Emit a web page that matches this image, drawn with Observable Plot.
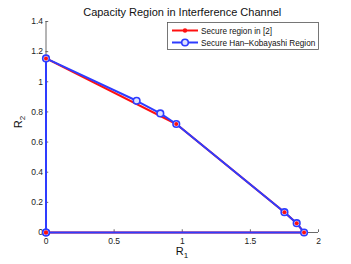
<!DOCTYPE html>
<html>
<head>
<meta charset="utf-8">
<script src="https://cdn.jsdelivr.net/npm/d3@7"></script>
<script src="https://cdn.jsdelivr.net/npm/@observablehq/plot@0.6"></script>
<style>
  html, body { margin: 0; padding: 0; background: #fff; }
  #wrap { position: relative; width: 351px; height: 264px; font-family: "Liberation Sans", Arial, sans-serif; }
  #legend { position: absolute; left: 167px; top: 22px; }
</style>
</head>
<body>
<div id="wrap"></div>
<script>
const titleText = "Capacity Region in Interference Channel";
const seriesNames = ["Secure region in [2]", "Secure Han\u2013Kobayashi Region"];
const seriesColors = ["#ff1010", "#2e3cff"];
const xTicks = [0, 0.5, 1, 1.5, 2];
const yTicks = [0, 0.2, 0.4, 0.6, 0.8, 1, 1.2, 1.4];

const redR1 = [0, 0, 0.956, 1.75, 1.84, 1.894, 0];
const redR2 = [0, 1.155, 0.72, 0.135, 0.062, 0, 0];
const blueR1 = [0, 0, 0.665, 0.839, 0.956, 1.75, 1.84, 1.894, 0];
const blueR2 = [0, 1.155, 0.874, 0.79, 0.72, 0.135, 0.062, 0, 0];

const red = redR1.map((x, i) => ({x, y: redR2[i]}));
const blue = blueR1.map((x, i) => ({x, y: blueR2[i]}));

const axisColor = "#444";
const chart = Plot.plot({
  width: 351,
  height: 264,
  marginLeft: 45.5,
  marginRight: 33,
  marginTop: 21,
  marginBottom: 32,
  style: {fontFamily: "Liberation Sans, Arial, sans-serif", fontSize: "8.5px", background: "#fff", color: "#222"},
  x: {domain: [0, 2], ticks: xTicks},
  y: {domain: [0, 1.4], ticks: yTicks},
  marks: [
    Plot.ruleX([0], {stroke: axisColor, strokeWidth: 0.8}),
    Plot.ruleY([0], {stroke: axisColor, strokeWidth: 0.8}),
    Plot.ruleX(xTicks, {x: d => d, y1: 0, y2: 0.018, stroke: axisColor, strokeWidth: 0.8}),
    Plot.ruleY(yTicks, {y: d => d, x1: 0, x2: 0.02, stroke: axisColor, strokeWidth: 0.8}),
    Plot.axisX({ticks: xTicks, tickSize: 0, tickPadding: 5, tickFormat: d => String(d), label: null, fill: "#222"}),
    Plot.axisY({ticks: yTicks, tickSize: 0, tickPadding: 3, tickFormat: d => String(d), label: null, fill: "#222"}),
    Plot.line(red, {x: "x", y: "y", stroke: seriesColors[0], strokeWidth: 2}),
    Plot.line(blue, {x: "x", y: "y", stroke: seriesColors[1], strokeWidth: 2}),
    Plot.dot(blue, {x: "x", y: "y", r: 3.3, stroke: seriesColors[1], strokeWidth: 1.6, fill: "#dfe2ff"}),
    Plot.dot(red, {x: "x", y: "y", r: 2, fill: seriesColors[0], stroke: "none"}),
    Plot.text([titleText], {frameAnchor: "top", dy: -13, fontSize: 11, fill: "#111"})
  ]
});

// axis labels with subscripts
const svg = d3.select(chart);
const xl = svg.append("text").attr("x", 182).attr("y", 255).attr("text-anchor", "middle")
  .attr("font-size", 11).attr("fill", "#111");
xl.append("tspan").text("R");
xl.append("tspan").attr("dy", 3).attr("font-size", 8).text("1");
const yl = svg.append("text").attr("transform", "translate(22,122) rotate(-90)").attr("text-anchor", "middle")
  .attr("font-size", 11).attr("fill", "#111");
yl.append("tspan").text("R");
yl.append("tspan").attr("dy", 3).attr("font-size", 8).text("2");

const wrap = document.getElementById("wrap");
wrap.appendChild(chart);

// legend
const leg = d3.select(wrap).append("div").attr("id", "legend")
  .append("svg").attr("width", 152).attr("height", 28);
leg.append("rect").attr("x", 0.5).attr("y", 0.5).attr("width", 151).attr("height", 27)
  .attr("fill", "#fff").attr("stroke", "#555").attr("stroke-width", 0.8);
seriesNames.forEach((name, i) => {
  const y = 8.5 + i * 12;
  const g = leg.append("g");
  g.append("line").attr("x1", 5).attr("x2", 31).attr("y1", y).attr("y2", y)
    .attr("stroke", seriesColors[i]).attr("stroke-width", 2);
  if (i === 0) {
    g.append("circle").attr("cx", 18).attr("cy", y).attr("r", 2.2).attr("fill", seriesColors[i]);
  } else {
    g.append("circle").attr("cx", 18).attr("cy", y).attr("r", 3.3).attr("fill", "#dfe2ff")
      .attr("stroke", seriesColors[i]).attr("stroke-width", 1.6);
  }
  g.append("text").attr("x", 34).attr("y", y + 3).attr("font-size", 8.2).attr("fill", "#111")
    .attr("font-family", "Liberation Sans, Arial, sans-serif").text(name);
});
</script>
</body>
</html>
